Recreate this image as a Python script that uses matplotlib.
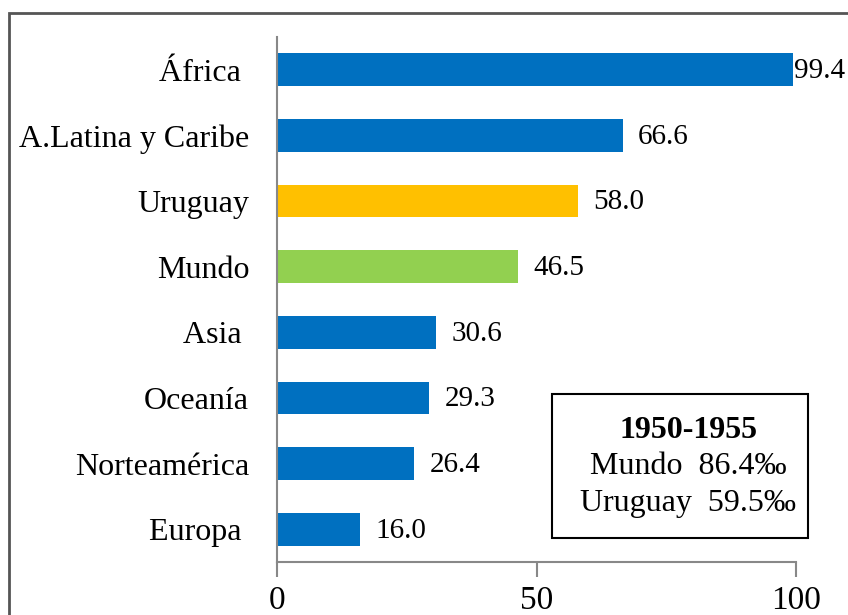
import matplotlib
matplotlib.use("Agg")
import matplotlib.pyplot as plt
from matplotlib.patches import Rectangle

plt.rcParams['font.family'] = ['Liberation Serif', 'DejaVu Serif']

regions = ["África ", "A.Latina y Caribe", "Uruguay", "Mundo",
           "Asia ", "Oceanía", "Norteamérica", "Europa "]
values = [99.4, 66.6, 58.0, 46.5, 30.6, 29.3, 26.4, 16.0]
colors = ["#0070C0", "#0070C0", "#FFC000", "#92D050",
          "#0070C0", "#0070C0", "#0070C0", "#0070C0"]
xticks = [0, 50, 100]
box_lines = ["1950-1955", "Mundo  86.4‰", "Uruguay  59.5‰"]

W, H = 848, 615
fig = plt.figure(figsize=(W / 100, H / 100), dpi=100)
ax = fig.add_axes([277 / W, 1 - 562 / H, 519 / W, 525 / H])

pos = list(range(len(regions)))[::-1]
ax.barh(pos, values, height=0.5, color=colors)

for p, v in zip(pos, values):
    off = 1 if v > 95 else 11
    ax.annotate(f"{v:.1f}", (v, p), xytext=(off, -1), textcoords="offset points",
                va="center", ha="left", fontsize=21, annotation_clip=False)

ax.set_xlim(0, 100)
ax.set_ylim(-0.5, len(regions) - 0.5)
ax.set_xticks(xticks)
ax.set_xticklabels([str(t) for t in xticks], fontsize=24)
ax.set_yticks(pos)
ax.set_yticklabels(regions, fontsize=23)
ax.tick_params(axis='y', length=0, pad=20)
ax.tick_params(axis='x', length=11, direction='out', color='#888888', width=1.5, pad=6)
for s in ['top', 'right']:
    ax.spines[s].set_visible(False)
for s in ['left', 'bottom']:
    ax.spines[s].set_color('#888888')
    ax.spines[s].set_linewidth(1.5)

# annotation box
for i, (txt, y) in enumerate(zip(box_lines, [430, 467, 503])):
    fig.text(688 / W, 1 - y / H, txt, ha='center', va='center', fontsize=23,
             fontweight='bold' if i == 0 else 'normal')
fig.patches.append(Rectangle((552 / W, 1 - 538 / H), 256 / W, 144 / H,
                             transform=fig.transFigure, fill=False,
                             edgecolor='black', linewidth=1.5))

# outer frame
fig.patches.append(Rectangle((9 / W, -0.1), 1.2, 1.1 - 13 / H,
                             transform=fig.transFigure, fill=False,
                             edgecolor='#555555', linewidth=2))

fig.savefig("out.png", dpi=100)
